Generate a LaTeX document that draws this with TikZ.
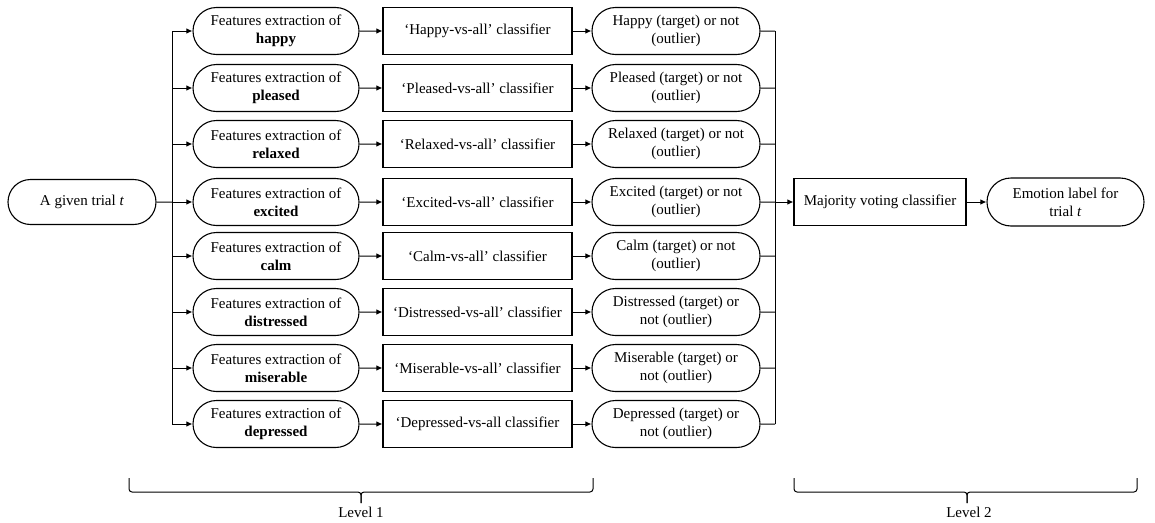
\documentclass[tikz,border=0pt]{standalone}
\usepackage{fontspec}
\setmainfont{Liberation Serif}
\usetikzlibrary{shapes.misc,arrows.meta}
\begin{document}
\begin{tikzpicture}[x=1pt,y=1pt,
  every node/.style={font=\fontsize{15}{18}\selectfont, align=center, inner sep=0pt},
  pill/.style={draw, rounded rectangle, line width=1.1pt, minimum height=47pt},
  boxnode/.style={draw, rectangle, line width=1.1pt, minimum height=47pt},
  link/.style={line width=1pt},
  flow/.style={link, -{Latex[length=6pt,width=5.5pt]}},
  bracket/.style={line width=1pt, rounded corners=3pt},
]
\useasboundingbox (0,0) rectangle (1155,-522);

% input trial
\node[pill, minimum width=148pt, minimum height=45pt] (trial) at (82,-202) {A given trial \textit{t}};

% level 1: one branch per emotion
\foreach \k/\w/\C/\res/\y in {
  1/happy/{‘Happy-vs-all’ classifier}/{Happy (target) or not\\(outlier)}/31,
  2/pleased/{‘Pleased-vs-all’ classifier}/{Pleased (target) or not\\(outlier)}/88,
  3/relaxed/{‘Relaxed-vs-all’ classifier}/{Relaxed (target) or not\\(outlier)}/144,
  4/excited/{‘Excited-vs-all’ classifier}/{Excited (target) or not\\(outlier)}/202,
  5/calm/{‘Calm-vs-all’ classifier}/{Calm (target) or not\\(outlier)}/256,
  6/distressed/{‘Distressed-vs-all’ classifier}/{Distressed (target) or\\not (outlier)}/312,
  7/miserable/{‘Miserable-vs-all’ classifier}/{Miserable (target) or\\not (outlier)}/368,
  8/depressed/{‘Depressed-vs-all classifier}/{Depressed (target) or\\not (outlier)}/424}
{
  \node[pill, minimum width=166pt] (f\k) at (276,-\y) {Features extraction of\\\textbf{\w}};
  \node[boxnode, minimum width=189pt] (c\k) at (477.5,-\y) {\C};
  \node[pill, minimum width=168pt] (r\k) at (676,-\y) {\res};
  \coordinate (lb\k) at (172,-\y);
  \coordinate (rb\k) at (775,-\y);
  \draw[flow] (lb\k) -- (f\k);
  \draw[flow] (f\k) -- (c\k);
  \draw[flow] (c\k) -- (r\k);
  \draw[link] (r\k) -- (rb\k);
}

% distribution and collection buses
\draw[link] (lb1) -- (lb8);
\draw[link] (rb1) -- (rb8);
\draw[link] (trial) -- (lb4);

% level 2
\node[boxnode, minimum width=172pt] (vote) at (880,-202) {Majority voting classifier};
\node[pill, minimum width=157pt, minimum height=48pt] (emo) at (1065.5,-202) {Emotion label for\\trial \textit{t}};
\draw[flow] (rb4) -- (vote);
\draw[flow] (vote) -- (emo);

% level brackets
\draw[bracket] (129,-478) -- (129,-492) -- (361,-492) -- (361,-503);
\draw[bracket] (593,-478) -- (593,-492) -- (361,-492) -- (361,-503);
\node (lv1) at (361,-512) {Level 1};
\draw[bracket] (794,-478) -- (794,-492) -- (967,-492) -- (967,-503);
\draw[bracket] (1137,-478) -- (1137,-492) -- (967,-492) -- (967,-503);
\node (lv2) at (969,-512) {Level 2};
\end{tikzpicture}
\end{document}
